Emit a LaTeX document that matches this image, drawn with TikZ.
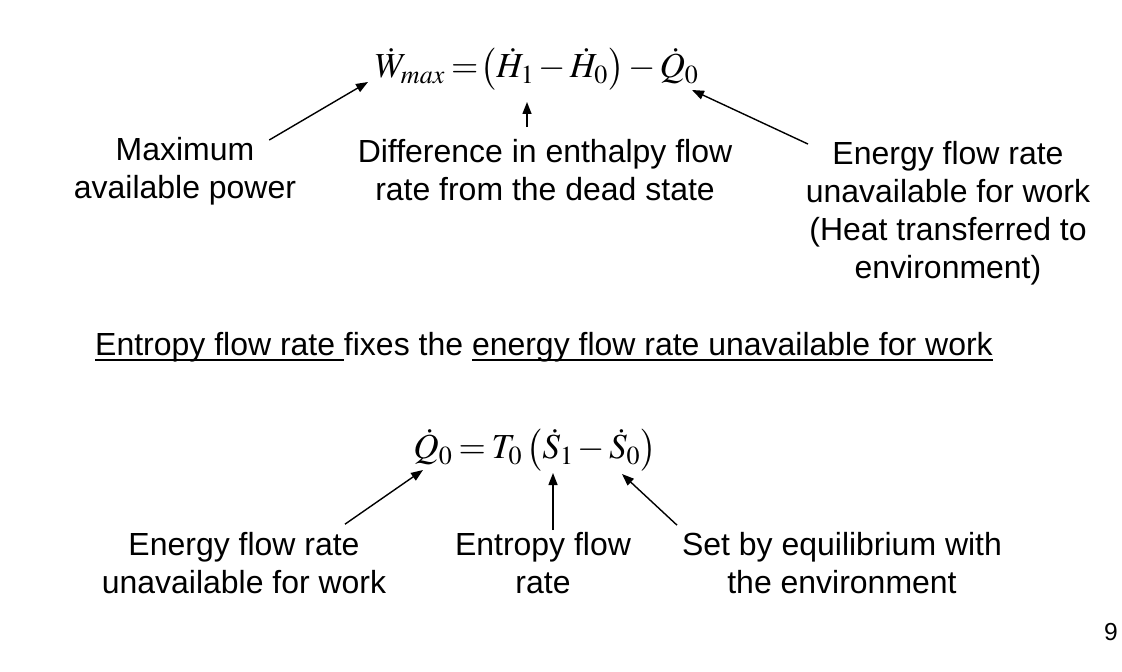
\documentclass[tikz,border=0pt]{standalone}
\usepackage{mathptmx}
\usepackage[no-math]{fontspec}
\setmainfont{Liberation Sans}
\usetikzlibrary{arrows.meta,calc}
\newcommand{\ulx}[1]{\setbox0\hbox{#1}\rlap{\rule[-3pt]{\wd0}{1.1pt}}\box0}
\medmuskip=2mu
\thickmuskip=3mu
\tikzset{
  lbl/.style={align=center, font=\fontsize{18.2}{21.6}\selectfont, inner sep=1pt},
  eqn/.style={font=\fontsize{20}{24}\selectfont, inner sep=0pt},
  ar/.style={-{Triangle[length=2.4mm,width=1.8mm]}, line width=0.8pt},
}
\begin{document}
\begin{tikzpicture}[x=0.02cm,y=-0.02cm]
\useasboundingbox (0,0) rectangle (1122,672);
% --- top: maximum available power
\node[eqn] (e1) at (537,69) {$\dot W_{max} =\! \left(\dot H_1 - \dot H_0\right) - \dot Q_0$};
\node[lbl] (mx) at (185,171) {Maximum\\available power};
\node[lbl] (dh) at (545,170) {Difference in enthalpy flow\\rate from the dead state};
\node[lbl] (eu) at (948,213) {Energy flow rate\\unavailable for work\\(Heat transferred to\\environment)};
\coordinate (wm) at (368,82);
\coordinate (h1) at (527,102);
\coordinate (q0) at (692,90);
\draw[ar] ([xshift=-0.58cm,yshift=-0.1cm]mx.north east) -- (wm);
\draw[ar] ([yshift=0.2cm]dh.north -| h1) -- (h1);
\draw[ar] ([xshift=-2.8cm,yshift=-0.1cm]eu.north) -- (q0);

% --- middle line
\node[lbl] (tx) at (544,347) {\ulx{Entropy flow rate }fixes the \ulx{energy flow rate unavailable for work}};

% --- bottom: heat to environment
\node[eqn] (e2) at (535,450) {$\dot Q_0 = T_0 \left(\dot S_1 - \dot S_0\right)$};
\node[lbl] (ue) at (244,563) {Energy flow rate\\unavailable for work};
\node[lbl] (ef) at (543,563) {Entropy flow\\rate};
\node[lbl] (se) at (842,563) {Set by equilibrium with\\the environment};
\coordinate (q2) at (423,470);
\coordinate (s1) at (553,473);
\coordinate (s0) at (622,474);
\draw[ar] ([xshift=2.02cm,yshift=0.12cm]ue.north) -- (q2);
\draw[ar] (ef.north -| s1) -- (s1);
\draw[ar] ([xshift=-3.3cm,yshift=0.1cm]se.north) -- (s0);

\node[font=\fontsize{14}{16}\selectfont] (pg) at (1111,632) {9};
\end{tikzpicture}
\end{document}
